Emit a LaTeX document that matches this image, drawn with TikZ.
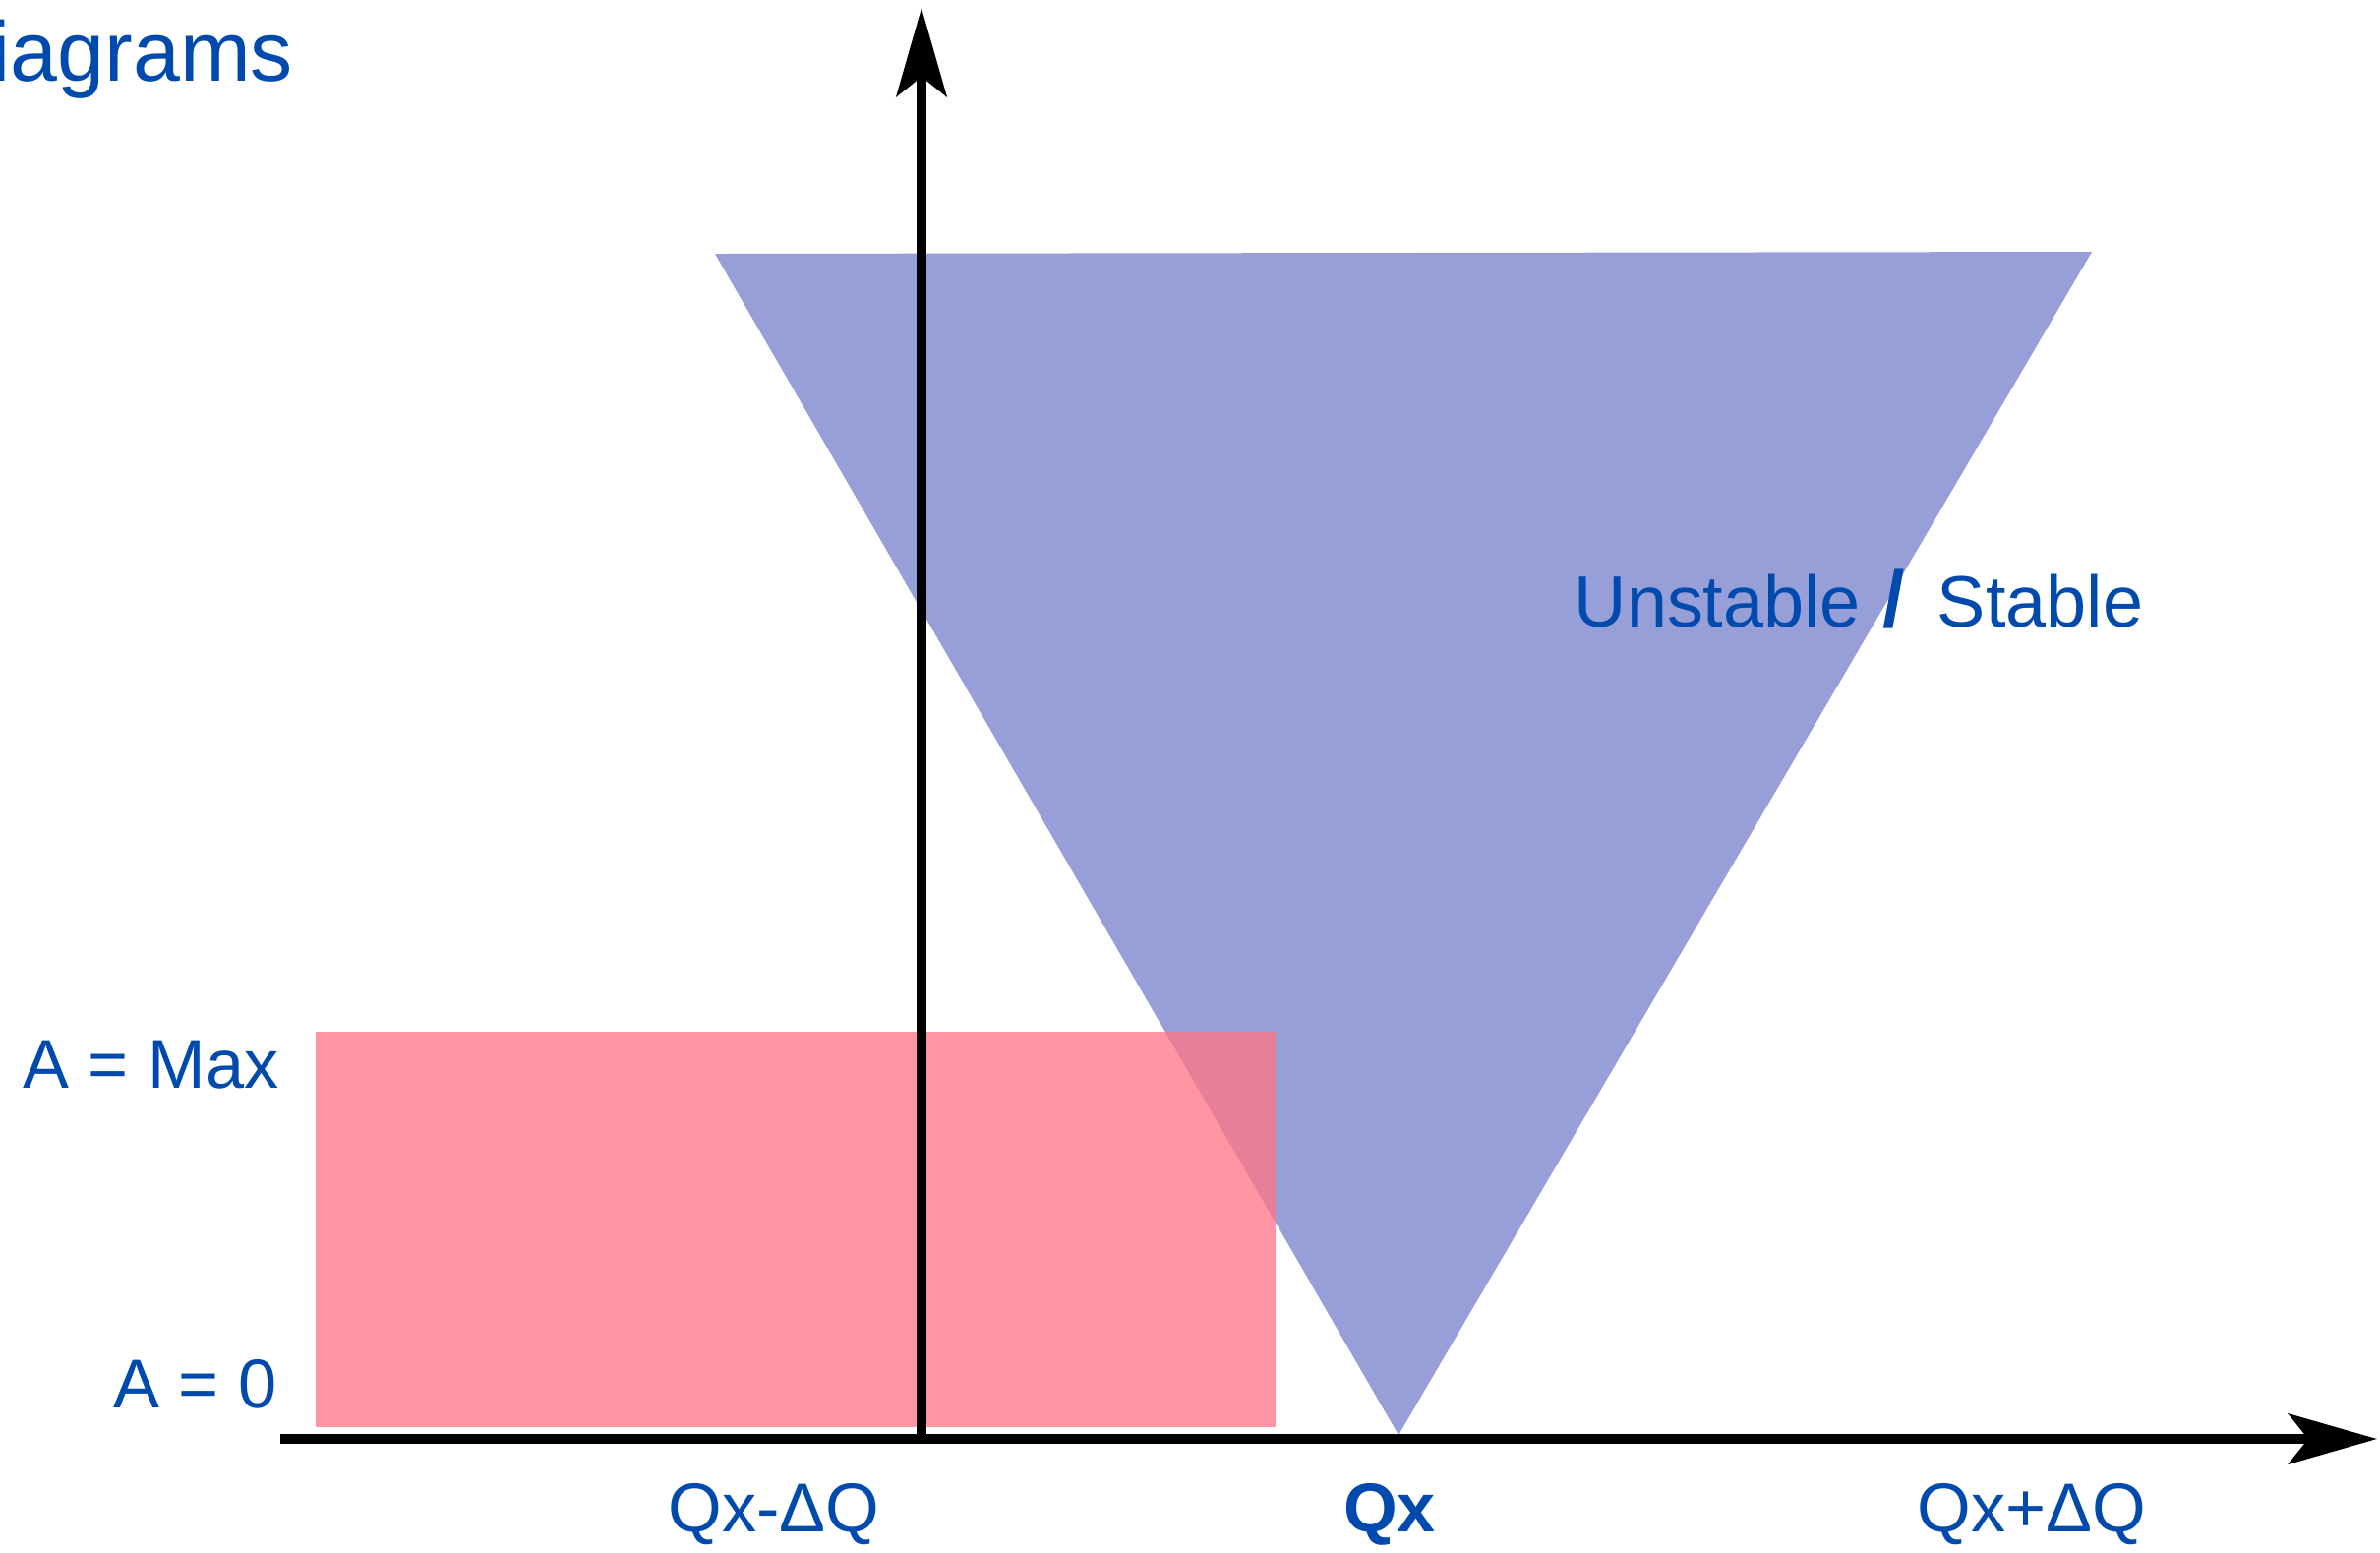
\documentclass[tikz,border=0pt]{standalone}
\usepackage{fontspec}
\setmainfont{Liberation Sans}
\usetikzlibrary{arrows.meta, positioning}
\definecolor{dgBlue}{HTML}{004AAD}
\definecolor{dgViolet}{HTML}{979FD9}
\definecolor{dgPink}{HTML}{FF7688}
\tikzset{
  axisline/.style = {-{Stealth[length=9mm, width=5.1mm, inset=2mm]}, line width=2.8pt, black},
  lbl/.style      = {font=\fontsize{20}{24}\selectfont, text=dgBlue, inner sep=0pt},
  zone/.style     = {fill=dgViolet},
  band/.style     = {fill=dgPink, fill opacity=0.78},
}

\begin{document}
\begin{tikzpicture}[x=1cm, y=-1cm]
  \useasboundingbox (0,0) rectangle (24.2,15.78);
  \node[lbl, anchor=base west, font=\fontsize{24.5}{28}\selectfont] (title) at (-0.09,0.82) {iagrams};
  % stable / unstable region and amplitude band
  \fill[zone] (7.27,2.58) -- (21.27,2.56) -- (14.22,14.59) -- cycle;
  \fill[band] (3.21,10.49) rectangle (12.97,14.51);
  % axes
  \coordinate (orig) at (9.37,14.63);
  \coordinate (xstart) at (2.85,14.63);
  \coordinate (xend) at (24.17,14.63);
  \coordinate (yend) at (9.37,0.08);
  \draw[axisline] (xstart) -- (xend);
  \draw[axisline] (orig) -- (yend);
  % labels
  \node[lbl, anchor=base east] (amax) at (2.84,11.06) {A = Max};
  \node[lbl, anchor=base east] (azero) at (2.82,14.31) {A = 0};
  \node[lbl, anchor=base west, font=\fontsize{21}{24}\selectfont] (regime) at (16.0,6.37)
    {Unstable\hspace{0.3em}{\fontsize{23}{24}\selectfont\bfseries /}\hspace{0.45em}Stable};
  \node[lbl, anchor=base] (qlow) at (7.87,15.57) {Qx-ΔQ};
  \node[lbl, anchor=base, font=\fontsize{20}{24}\selectfont\bfseries] (qx) at (14.13,15.57) {Qx};
  \node[lbl, anchor=base] (qhigh) at (20.66,15.57) {Qx+ΔQ};
\end{tikzpicture}
\end{document}
